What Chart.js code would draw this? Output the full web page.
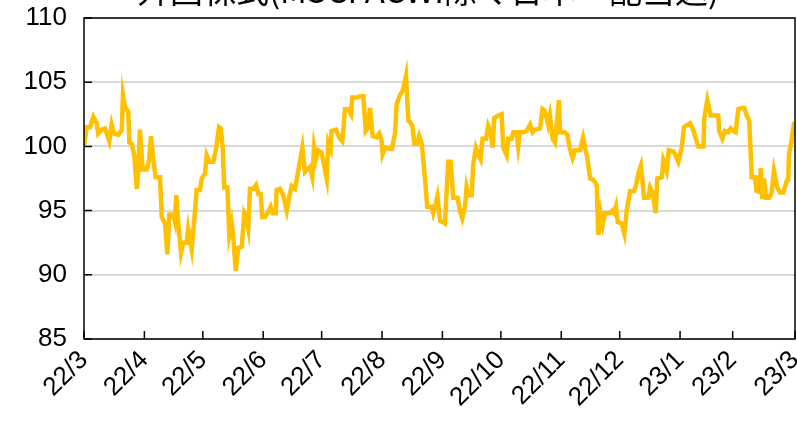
<!DOCTYPE html>
<html>
<head>
<meta charset="utf-8">
<script src="https://cdn.jsdelivr.net/npm/chart.js@4/dist/chart.umd.min.js"></script>
<style>
  html, body { margin: 0; padding: 0; background: #fff; overflow: hidden; }
  #wrap { width: 797px; height: 421px; position: relative; }
</style>
</head>
<body>
<div id="wrap"><canvas id="chart" width="797" height="421"></canvas></div>
<script>
// title of the original chart (cut off at the top of the picture)
const chartTitle = "外国株式(MSCI ACWI除く日本・配当込)";

// x = days since 2022/3/1, y = index level
const days = [
  0, 1.4, 3.1, 4.8, 6.5, 7.3, 9.1, 10.8, 13, 14.2, 15.4, 17.6, 19.4, 20, 21, 22.7, 23.3, 24.5, 25.8, 27.1,
  27.9, 28.7, 30.1, 32.1, 33.4, 34.4, 35.6, 36.8, 39, 39.9, 41.6, 42.8, 43.8, 45.8, 46.6, 47.4, 48.4, 49.8, 51, 52.7,
  53.5, 55.3, 57, 57.8, 59.5, 60.4, 62.1, 63, 64.3, 66.4, 67.8, 69.3, 70.2, 71.2, 72, 73.6, 74.6, 75.8, 76.6, 77.9,
  79.2, 81, 82.3, 83.2, 84.3, 85.2, 86.9, 88.3, 89.5, 90.7, 91.5, 92.9, 94.6, 95.8, 96.9, 98.4, 98.9, 100.6, 102.3, 104.1,
  105.4, 106.6, 108.3, 110, 112.1, 113.4, 116, 117.2, 118.1, 119.1, 120.3, 122, 124.6, 125.4, 126.6, 127.1, 129.4, 131.4, 132.6, 134,
  135.7, 137.1, 137.7, 140, 141.7, 143.4, 144.6, 145.9, 146.8, 148.2, 150.2, 151.6, 152.8, 153.3, 154.5, 158, 159.7, 160.5, 162.2, 163.1,
  163.9, 165.3, 166.5, 167.4, 168.5, 169.6, 171.1, 172.1, 173.4, 175.1, 176.2, 178.5, 179.3, 180.2, 181.4, 182.8, 185.3, 187, 188.2, 189.6,
  191.8, 193, 194.2, 195.6, 196.4, 197.3, 199, 199.8, 201.2, 202.4, 203.6, 204.6, 206.4, 207.5, 208.8, 209.8, 210.6, 212.7, 214.4, 215.2,
  217, 217.8, 219.5, 220.4, 222.1, 222.9, 223.8, 225.5, 227.2, 229, 230.3, 231.5, 234.1, 235.4, 236.3, 237.2, 238.3, 239.2, 240.6, 241.8,
  243.8, 244.4, 246.9, 248.1, 249.5, 250.8, 252, 254.6, 256.2, 258.4, 259.8, 261.5, 263.2, 264, 265.2, 266.3, 267.5, 270, 271.2, 272.2,
  273.1, 274, 276, 277.4, 278.6, 280.3, 282.3, 283.4, 284.6, 285.9, 287.5, 289.7, 290.6, 291.9, 293.5, 294.3, 296.6, 297.4, 299.1, 300.2,
  302.5, 303.4, 305.1, 306.8, 308, 311.1, 312.5, 313.7, 315.4, 318, 318.4, 320, 321.7, 323.9, 325.6, 326.1, 327.7, 329, 330.7, 332,
  333.3, 334.5, 335.9, 337.6, 339, 340.2, 341.5, 342.8, 344.5, 345.3, 346.1, 346.7, 347.4, 348.2, 349.1, 350.1, 351.7, 353, 354.2, 355.9,
  357.3, 359, 360.7, 361.5, 362, 363.2, 364.6
];
const values = [
  100, 101.5, 101.5, 102.3, 101.8, 101, 101.3, 101.4, 100.4, 101.7, 101, 100.9, 101.3, 104, 103.1, 102.7, 100.3, 100.2, 99.3, 96.7,
  98.1, 101.3, 98.2, 98.2, 98.9, 100.8, 98.9, 97.6, 97.6, 94.5, 94, 91.6, 94.7, 94.7, 94.2, 96.2, 94, 91.7, 92.5, 92.5,
  93.6, 92, 95, 96.6, 96.6, 97.5, 97.9, 99.3, 98.8, 98.8, 99.8, 101.5, 101.4, 99.9, 96.8, 96.8, 93.1, 94, 93, 90.3,
  92.1, 92.2, 94.8, 94.5, 93.6, 96.7, 96.7, 97, 96.3, 96.3, 94.5, 94.5, 94.9, 95.3, 94.8, 94.8, 96.6, 96.7, 96.2, 95,
  96.1, 96.9, 96.7, 98.1, 99.9, 98, 98.4, 97.6, 99.9, 99, 99.7, 99.5, 97.5, 100.3, 99.8, 101.2, 101.3, 100.6, 100.4, 102.9,
  102.9, 102.5, 103.8, 103.8, 103.9, 103.9, 101.2, 101.5, 103, 100.8, 100.7, 101, 100.4, 99.4, 99.9, 99.8, 101, 103.3, 104, 104.2,
  104.5, 105.5, 102, 101.9, 101.6, 100.2, 100.2, 100.8, 100.2, 97.4, 95.3, 95.3, 94.8, 95.3, 96.1, 94.2, 94, 98.8, 98.8, 96,
  96, 95, 94.4, 95.3, 96.8, 96.2, 96.2, 98.6, 99.9, 99.4, 99, 100.6, 100.6, 101.6, 101.1, 99.9, 102.2, 102.4, 102.5, 99.9,
  99.3, 100.6, 100.6, 101.1, 101.1, 100, 101.1, 101.1, 101.2, 101.7, 101.1, 101.3, 101.4, 102.9, 102.8, 102.4, 101.7, 102.4, 100.6, 100.3,
  103.6, 101.1, 101.1, 100.9, 99.8, 99.1, 99.7, 99.7, 100.7, 99.1, 97.5, 97.4, 97, 93.1, 94.8, 93.9, 94.8, 94.8, 95, 94.8,
  95.3, 94.1, 94, 93.2, 95, 96.5, 96.5, 97, 97.9, 98.5, 96, 96, 96.8, 96.4, 94.8, 97.5, 97.6, 98.9, 98.1, 99.7,
  99.6, 99.4, 98.8, 99.9, 101.5, 101.8, 101.4, 100.8, 100, 100, 102.2, 103.6, 102.4, 102.4, 102.4, 101.2, 100.6, 101.2, 101.1, 101.4,
  101.2, 101.1, 102.9, 103, 103, 102.4, 102, 97.6, 97.6, 96.4, 97.7, 96.3, 98.3, 95.9, 97.5, 96, 96, 96.4, 98.1, 96.8,
  96.4, 96.4, 97.3, 97.4, 99.5, 100.4, 101.9
];

// month ticks on the x axis (days since 2022/3/1) and their labels
const tickDays = [0, 31, 61, 92, 122, 153, 184, 214, 245, 275, 306, 333, 365];
const tickLabels = ["22/3", "22/4", "22/5", "22/6", "22/7", "22/8", "22/9", "22/10", "22/11", "22/12", "23/1", "23/2", "23/3"];
const yTicks = [85, 90, 95, 100, 105, 110];

const points = days.map((d, i) => ({ x: d, y: values[i] }));

// frame, inner tick marks and the clipped title
const framePlugin = {
  id: "frame",
  afterDraw(chart) {
    const c = chart.ctx;
    const a = chart.chartArea;
    const xs = chart.scales.x;
    const ys = chart.scales.y;
    c.save();
    c.strokeStyle = "#000";
    c.lineWidth = 1.5;
    c.strokeRect(a.left, a.top, a.right - a.left, a.bottom - a.top);
    c.beginPath();
    yTicks.forEach(v => {
      const y = ys.getPixelForValue(v);
      c.moveTo(a.left, y);
      c.lineTo(a.left + 8, y);
    });
    tickDays.forEach(d => {
      const x = xs.getPixelForValue(d);
      c.moveTo(x, a.bottom);
      c.lineTo(x, a.bottom - 8);
    });
    c.stroke();
    c.fillStyle = "#000";
    c.font = "33px 'Noto Sans CJK JP'";
    c.textAlign = "center";
    c.textBaseline = "alphabetic";
    c.fillText(chartTitle, 428, 3);
    c.restore();
  }
};

new Chart(document.getElementById("chart"), {
  type: "line",
  data: {
    datasets: [{
      data: points,
      borderColor: "#FFC000",
      borderWidth: 4.5,
      pointRadius: 0,
      tension: 0,
      fill: false
    }]
  },
  options: {
    responsive: false,
    animation: false,
    layout: { padding: { top: 18, right: 2, left: 0, bottom: 0 } },
    plugins: { legend: { display: false }, tooltip: { enabled: false }, title: { display: false } },
    scales: {
      x: {
        type: "linear",
        min: 0,
        max: 365,
        afterBuildTicks: s => { s.ticks = tickDays.map(v => ({ value: v })); },
        afterFit: s => { s.height = 82; s.paddingLeft = 0; s.paddingRight = 0; },
        grid: { display: false, drawTicks: false },
        border: { display: false },
        ticks: {
          autoSkip: false,
          maxRotation: 45,
          minRotation: 45,
          padding: 6,
          color: "#000",
          font: { family: "'Liberation Sans'", size: 26 },
          callback: (v, i) => tickLabels[i]
        }
      },
      y: {
        min: 85,
        max: 110,
        afterBuildTicks: s => { s.ticks = yTicks.map(v => ({ value: v })); },
        afterFit: s => { s.width = 84; s.paddingTop = 0; s.paddingBottom = 0; },
        grid: { color: "#d9d9d9", lineWidth: 2, drawTicks: false },
        border: { display: false },
        ticks: {
          padding: 17,
          color: "#000",
          font: { family: "'Liberation Sans'", size: 26 }
        }
      }
    }
  },
  plugins: [framePlugin]
});
</script>
</body>
</html>
